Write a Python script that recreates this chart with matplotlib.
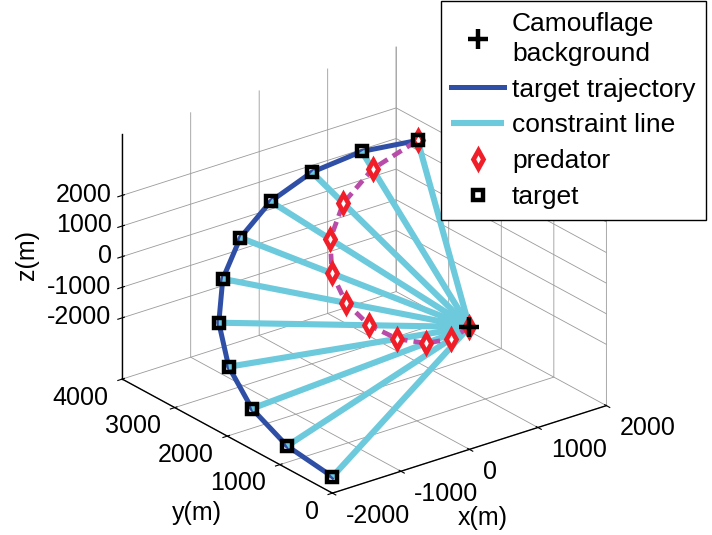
import matplotlib
matplotlib.use("Agg")
import matplotlib.pyplot as plt

plt.rcParams["font.family"] = ["Liberation Sans", "DejaVu Sans"]
plt.rcParams["axes.unicode_minus"] = False
plt.rcParams["grid.color"] = "#9a9a9a"
plt.rcParams["grid.linewidth"] = 0.6

# camouflage background point (m)
camo_x, camo_y, camo_z = 0, 0, 0

# target positions (m) at each sample time
target_x = [-2000, -1945, -1782, -1521, -1176, -765, -313, 157, 618, 1045, 1414]
target_y = [0, 934, 1816, 2598, 3236, 3696, 3951, 3988, 3804, 3410, 2828]
target_z = [-3464, -3368, -3086, -2634, -2036, -1326, -542, 272, 1070, 1810, 2449]

# predator positions (m), one on each constraint line
pred_x = [0, -195, -356, -456, -470, -383, -188, 110, 494, 941, 1414]
pred_y = [0, 93, 363, 779, 1294, 1848, 2371, 2792, 3043, 3069, 2828]
pred_z = [0, -337, -617, -790, -814, -663, -325, 190, 856, 1629, 2449]

x_ticks = [-2000, -1000, 0, 1000, 2000]
y_ticks = [0, 1000, 2000, 3000, 4000]
z_ticks = [-2000, -1000, 0, 1000, 2000]

BLUE = "#2f4fa6"
CYAN = "#6ccadc"
MAGENTA = "#b84ca8"
RED = "#f01e28"

W, H = 712, 535
fig = plt.figure(figsize=(W / 100, H / 100), dpi=100)
ax = fig.add_axes([0.0015, -0.018, 1.0, 1.0], projection="3d", proj_type="ortho")
ax.computed_zorder = False

h_traj, = ax.plot(target_x, target_y, target_z, color=BLUE, lw=3.6,
                  label="target trajectory")
h_con = None
for tx, ty, tz in zip(target_x, target_y, target_z):
    h_con, = ax.plot([camo_x, tx], [camo_y, ty], [camo_z, tz], color=CYAN,
                     lw=4.4, solid_capstyle="butt", label="constraint line")
ax.plot(pred_x, pred_y, pred_z, color=MAGENTA, lw=3.4, ls=(0, (2.2, 1.3)))
h_pred, = ax.plot(pred_x, pred_y, pred_z, ls="none", marker="d", ms=9,
                  mec=RED, mfc="white", mew=3.4, label="predator")
h_tgt, = ax.plot(target_x, target_y, target_z, ls="none", marker="s", ms=7.8,
                 mec="k", mfc="none", mew=3.2, label="target")
h_camo, = ax.plot([camo_x], [camo_y], [camo_z], ls="none", marker="+",
                  ms=14, mec="k", mew=3.2, label="Camouflage\nbackground")

ax.set_xlim(-2000, 2000)
ax.set_ylim(0, 4000)
ax.set_zlim(-4000, 4000)
ax.set_xticks(x_ticks)
ax.set_yticks(y_ticks)
ax.set_zticks(z_ticks)
ax.tick_params(labelsize=18)
ax.xaxis.set_tick_params(pad=4.6)
ax.yaxis.set_tick_params(pad=1.8)
ax.zaxis.set_tick_params(pad=-3.6)

ax.set_box_aspect((1, 1, 0.78), zoom=1.012)
ax.view_init(elev=24.6, azim=-127.5)

for axis in (ax.xaxis, ax.yaxis, ax.zaxis):
    axis.set_pane_color((1, 1, 1, 0))
    axis.pane.set_edgecolor("none")
    axis.line.set_color("k")
    axis.line.set_linewidth(1.0)

# MATLAB-like tick label anchoring
for lab in ax.get_xticklabels():
    lab.set_ha("left")
    lab.set_va("center")
for lab in ax.get_yticklabels():
    lab.set_ha("right")
    lab.set_va("center_baseline")
for lab in ax.get_zticklabels():
    lab.set_ha("right")
    lab.set_va("center")

fig.text(483 / W, 1 - 518 / H, "x(m)", fontsize=18, ha="center", va="center")
fig.text(197 / W, 1 - 513 / H, "y(m)", fontsize=18, ha="center", va="center")
fig.text(27 / W, 1 - 255 / H, "z(m)", fontsize=18, ha="center", va="center",
         rotation=90)

leg = ax.legend(handles=[h_camo, h_traj, h_con, h_pred, h_tgt],
                loc="upper right", bbox_to_anchor=(706 / W, 0.998),
                bbox_transform=fig.transFigure, fontsize=19, frameon=True,
                fancybox=False, edgecolor="k", framealpha=1, borderpad=0.4,
                handlelength=2.0, handletextpad=0.3, labelspacing=0.45,
                numpoints=1, borderaxespad=0)
leg.get_texts()[0].set_linespacing(1.32)
leg.get_frame().set_linewidth(1.0)

fig.savefig("out.png", dpi=100)
